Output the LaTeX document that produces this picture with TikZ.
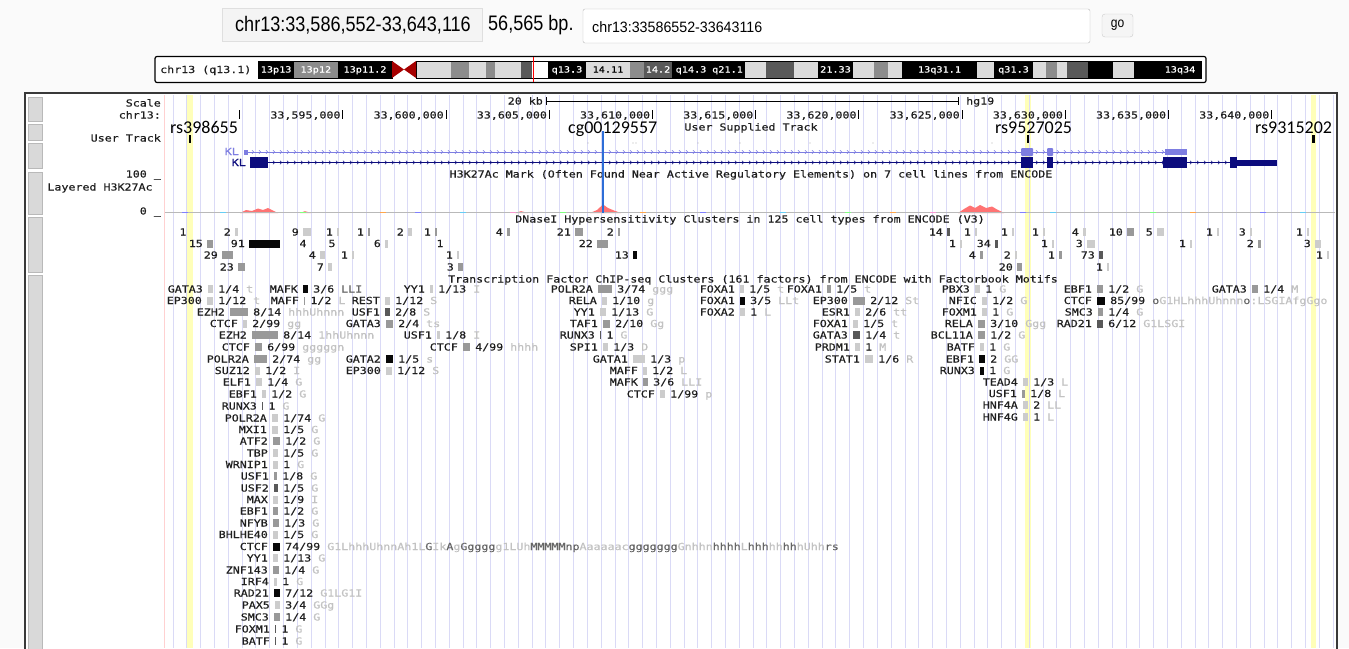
\documentclass[tikz,border=0pt]{standalone}
\usepackage{fontspec}
\newfontfamily\ucfam[FakeStretch=1.2,FakeBold=0.5]{DejaVu Sans Mono}
\newfontfamily\arnar[FakeStretch=0.86]{Liberation Sans}
\newfontfamily\arnarB[FakeStretch=0.95]{Liberation Sans}
\newfontfamily\calfam{Carlito}
\newcommand\ucf{\ucfam\fontsize{9.7}{10}\selectfont}
\newcommand\bandf{\ucfam\fontsize{8.5}{9}\selectfont}
\definecolor{gridc}{RGB}{218,218,246}
\definecolor{hlc}{RGB}{255,255,185}
\definecolor{klL}{RGB}{125,125,225}
\definecolor{klD}{RGB}{12,12,125}
\definecolor{cgblue}{RGB}{45,110,215}
\definecolor{sL}{gray}{0.80}
\definecolor{sM}{gray}{0.60}
\definecolor{sD}{gray}{0.35}
\definecolor{sK}{gray}{0.03}
\definecolor{mot}{gray}{0.76}
\definecolor{motd}{gray}{0.40}
\definecolor{bandL}{gray}{0.86}
\definecolor{bandM}{gray}{0.55}
\definecolor{bandD}{gray}{0.35}
\definecolor{txtc}{gray}{0.12}
\tikzset{
 lab/.style={anchor=east,font=\ucf,text=txtc,text height=7pt,text depth=0pt,inner sep=0pt},
 txt/.style={anchor=west,font=\ucf,text=txtc,text height=7pt,text depth=0pt,inner sep=0pt},
 ctr/.style={anchor=center,font=\ucf,text=txtc,text height=7pt,text depth=0pt,inner sep=0pt},
 bandlab/.style={anchor=center,font=\bandf,text height=6pt,text depth=0pt,inner sep=0pt},
 snp/.style={anchor=base west,font=\calfam\fontsize{18}{20}\selectfont,inner sep=0pt},
}
% TF cluster item: xbox, y, width, shade, label, score, motif
\newcommand\tfi[7]{%
  \node[lab] at ({#1-5},#2) {#5};
  \fill[#4] (#1,{#2-4}) rectangle ++(#3,8);
  \node[txt] at ({#1+#3+5},#2) {#6 \textcolor{mot}{#7}};
}
% DNase cluster item: xbox, y, width, shade, number
\newcommand\dn[5]{%
  \node[lab] at ({#1-4},#2) {#5};
  \fill[#4] (#1,{#2-4}) rectangle ++(#3,8);
}
\begin{document}
\begin{tikzpicture}[x=1pt,y=-1pt,font=\ucf]
\useasboundingbox (0,0) rectangle (1349,648);
\fill[gray!4] (0,0) rectangle (1349,648);
% ---------- top bar ----------
\filldraw[fill=gray!9,draw=gray!25] (222,8) rectangle (482,41);
\node[font=\arnar\fontsize{21}{24}\selectfont,inner sep=0pt] (pos) at (353,25) {chr13:33,586,552-33,643,116};
\node[font=\arnar\fontsize{21}{24}\selectfont,inner sep=0pt,anchor=west] (bp) at (488,25) {56,565 bp.};
\filldraw[fill=white,draw=gray!55,rounded corners=2pt] (583,9) rectangle (1090,43);
\node[font=\arnarB\fontsize{15}{17}\selectfont,inner sep=0pt,anchor=west] (inp) at (592,27) {chr13:33586552-33643116};
\filldraw[fill=gray!8,draw=gray!40,rounded corners=3pt] (1102,14) rectangle (1133,37);
\node[font=\arnar\fontsize{14}{16}\selectfont,inner sep=0pt] (go) at (1117.5,25) {go};
% ---------- ideogram ----------
\filldraw[fill=white,draw=black,line width=1.2pt,rounded corners=2pt] (155,56.5) rectangle (1206,82.5);
\node[txt] (chrlab) at (160,69.5) {chr13 (q13.1)};
\foreach \a/\b/\c in {258.6/293.6/black,293.6/338/bandM,338/392/black,416/451/bandL,451/469/bandM,469/486/bandL,486/495/bandM,495/521/bandL,521/532/bandD,532/548/white,548/586/black,586/630/bandL,630/644/bandM,644/672/bandD,672/710/black,710/745/black,745/766/bandL,766/794/bandD,794/818/bandL,818/853/black,853/874/bandL,874/888/bandM,888/902/bandL,902/977/black,977/994/bandL,994/1033/black,1033/1046/bandL,1046/1057/bandM,1057/1067/bandL,1067/1088/bandD,1088/1113/black,1113/1134/bandL,1134/1159/black,1159/1201/black}
  \fill[\c] (\a,61) rectangle (\b,78);
\draw[black,line width=0.5pt] (258.6,61) rectangle (392,78);
\draw[black,line width=0.5pt] (416,61) rectangle (1201,78);
\fill[red!65!black] (392,61) -- (404,69.5) -- (392,78) -- cycle;
\fill[red!65!black] (416,61) -- (404,69.5) -- (416,78) -- cycle;
\foreach \x/\t/\c in {276.1/13p13/white,315.8/13p12/white,365/13p11.2/white,567/q13.3/white,608/14.11/black,658/14.2/white,691/q14.3/white,727.5/q21.1/white,835.5/21.33/white,939.5/13q31.1/white,1013.5/q31.3/white,1180/13q34/white}
  \node[bandlab,text=\c] at (\x,69.5) {\t};
\draw[red,line width=1.5pt] (533.5,57) -- (533.5,82);
% ---------- main frame ----------
\fill[white] (25,93) rectangle (1337,648);
\foreach \a/\b in {97/121,124/140,143/168,172/214,217/272,275/652}
  \filldraw[fill=gray!30,draw=gray!55] (28.5,\a) rectangle (42,\b);
% highlights
\foreach \a/\b in {187/193,1025/1031,1311/1316}
  \fill[hlc] (\a,95) rectangle (\b,648);
% grid
\foreach \i in {0,...,84}
  \draw[gridc,line width=0.8pt] ({173+13.81*\i},95) -- ({173+13.81*\i},648);
\draw[red!18,line width=0.8pt] (164.5,95) -- (164.5,648);
\draw[gray!45!black,line width=2pt] (25,660) -- (25,93) -- (1337,93) -- (1337,660);
% ---------- left labels ----------
\node[lab] (lscale) at (161,103) {Scale};
\node[lab] (lchr) at (161,115) {chr13:};
\node[lab] (luser) at (161,138) {User Track};
\node[lab] (l100) at (161,174) {100 \_};
\node[ctr] (llay) at (100,187) {Layered H3K27Ac};
\node[lab] (l0) at (161,211) {0 \_};
% ---------- ruler ----------
\node[lab] (kb) at (543,101) {20 kb};
\draw[black,line width=0.8pt] (546,97) -- (546,105);
\draw[black,line width=0.8pt] (546,101) -- (958,101);
\draw[black,line width=0.8pt] (958,97) -- (958,105);
\node[txt] (hg) at (966,101) {hg19};
\draw[black,line width=0.8pt] (239.5,110) -- (239.5,119);
\foreach \i/\t in {1/{33,595,000},2/{33,600,000},3/{33,605,000},4/{33,610,000},5/{33,615,000},6/{33,620,000},7/{33,625,000},8/{33,630,000},9/{33,635,000},10/{33,640,000}}{
  \draw[black,line width=0.8pt] ({239.5+103.2*\i},110) -- ({239.5+103.2*\i},119);
  \node[lab] at ({237.5+103.2*\i},115) {\t};
}
% ---------- user track ----------
\node[ctr] (ust) at (751,127) {User Supplied Track};
\foreach \x in {188.5,1026.5,1312}
  \fill[black] (\x,135) rectangle ++(2.5,8);
\foreach \x in {588,633,636,698,740,810,873,992}
  \fill[gray!60] (\x,143) circle (0.6);
% ---------- KL genes ----------
\node[lab,text=klL] (kl1) at (239,151.5) {KL};
\draw[klL,line width=1pt] (245,152) -- (1187,152);
\foreach \x in {252,259,...,1180}
  \draw[klL,line width=0.5pt] (\x,150.2) -- (\x+1.7,152) -- (\x,153.8);
\fill[klL] (244,149.5) rectangle (248,154.5);
\fill[klL,rounded corners=1pt] (1021,148) rectangle (1033,156);
\fill[klL,rounded corners=1pt] (1047,148) rectangle (1053,156);
\fill[klL] (1165,149) rectangle (1187,155);
\node[lab,text=klD] (kl2) at (246,162.5) {KL};
\draw[klD,line width=1pt] (268,162.5) -- (1230,162.5);
\foreach \x in {273,280,...,1225}
  \draw[klD,line width=0.5pt] (\x,160.7) -- (\x+1.7,162.5) -- (\x,164.3);
\fill[klD] (250,157) rectangle (268,168);
\fill[klD] (1021,157) rectangle (1033,168);
\fill[klD] (1047,157) rectangle (1053,168);
\fill[klD] (1163,157) rectangle (1187,168);
\fill[klD] (1230,157) rectangle (1237,168);
\fill[klD] (1237,159.5) rectangle (1277,165.5);
% ---------- H3K27Ac ----------
\node[ctr] (h3t) at (751,174) {H3K27Ac Mark (Often Found Near Active Regulatory Elements) on 7 cell lines from ENCODE};
\fill[red!55!white] (240,213) -- (246,210) -- (252,211) -- (258,208.5) -- (263,210) -- (268,208) -- (273,210.5) -- (278,213) -- cycle;
\fill[red!45!white] (300,213) -- (305,211) -- (311,213) -- cycle;
\fill[red!45!white] (515,213) -- (521,211) -- (528,213) -- cycle;
\fill[red!55!white] (590,213) -- (597,210) -- (603,204.5) -- (608,208) -- (614,210.5) -- (621,213) -- cycle;
\fill[red!55!white] (958,213) -- (964,209) -- (970,205.5) -- (975,208) -- (980,205) -- (986,208) -- (992,206.5) -- (997,209.5) -- (1004,213) -- cycle;
\draw[gray!55,line width=1pt] (165,212.5) -- (1335,212.5);
\foreach \x/\c in {182/blue!50,220/cyan!60,300/green!50,380/orange!70,415/blue!50,460/cyan!60,510/magenta!40,560/green!50,640/orange!70,700/blue!50,780/cyan!60,845/green!50,890/orange!70,930/magenta!40,1020/blue!50,1050/cyan!60,1150/green!50,1190/orange!70,1260/blue!50,1300/cyan!60}
  \draw[\c,line width=1.5pt] (\x,212.5) -- ++(6,0);
% cg00129557 marker
\draw[cgblue,line width=2pt] (603,131) -- (603,213);
% SNP labels
\node[snp] (rs1) at (170,133) {rs398655};
\node[snp] (cg) at (568,133) {cg00129557};
\node[snp] (rs2) at (995,133) {rs9527025};
\node[snp] (rs3) at (1255,133) {rs9315202};
% ---------- DNase ----------
\node[ctr] (dnt) at (750,219) {DNaseI Hypersensitivity Clusters in 125 cell types from ENCODE (V3)};
\node[ctr] at (183,232) {1};
\dn{235}{232}{3}{sL}{2}
\dn{303}{232}{8}{sL}{9}
\dn{337}{232}{2}{sL}{1}
\dn{368}{232}{2}{sM}{1}
\dn{408}{232}{4}{sL}{2}
\dn{435}{232}{2}{sM}{1}
\dn{507}{232}{3}{sM}{4}
\dn{575}{232}{8}{sM}{21}
\dn{618}{232}{2}{sM}{2}
\dn{947}{232}{3}{sD}{14}
\dn{975}{232}{2}{sL}{1}
\dn{1012}{232}{2}{sL}{1}
\dn{1043}{232}{2}{sL}{1}
\dn{1083}{232}{3}{sL}{4}
\dn{1127}{232}{7}{sM}{10}
\dn{1157}{232}{7}{sL}{5}
\dn{1217}{232}{2}{sL}{1}
\dn{1250}{232}{2}{sL}{3}
\dn{1307}{232}{2}{sL}{1}
\dn{207}{243.5}{6}{sM}{15}
\dn{249}{243.5}{31}{sK}{91}
\node[ctr] at (303,243.5) {4};
\node[ctr] at (332,243.5) {5};
\dn{385}{243.5}{3}{sL}{6}
\node[ctr] at (440,243.5) {1};
\dn{597}{243.5}{11}{sM}{22}
\dn{960}{243.5}{1.5}{sL}{1}
\dn{995}{243.5}{3}{sD}{34}
\dn{1052}{243.5}{2}{sL}{1}
\dn{1087}{243.5}{8}{sL}{3}
\dn{1190}{243.5}{2}{sL}{1}
\dn{1258}{243.5}{3}{sM}{2}
\dn{1315}{243.5}{6}{sL}{3}
\dn{222}{255}{11}{sM}{29}
\dn{320}{255}{5}{sL}{4}
\dn{352}{255}{2}{sL}{1}
\dn{457}{255}{2}{sL}{1}
\dn{633}{255}{4}{sK}{13}
\dn{980}{255}{3}{sM}{4}
\dn{1015}{255}{2}{sL}{2}
\dn{1059}{255}{3}{sM}{1}
\dn{1099}{255}{4}{sD}{73}
\dn{1327}{255}{2}{sL}{1}
\dn{238}{267}{7}{sM}{23}
\dn{328}{267}{4}{sL}{7}
\dn{458}{267}{5}{sM}{3}
\dn{1017}{267}{5}{sM}{20}
\dn{1107}{267}{2}{sL}{1}
% ---------- TF clusters ----------
\node[ctr] (tft) at (753,279) {Transcription Factor ChIP-seq Clusters (161 factors) from ENCODE with Factorbook Motifs};
\tfi{208}{289}{5}{sL}{GATA3}{1/4}{t}
\tfi{207}{300.5}{6}{sL}{EP300}{1/12}{t}
\tfi{230}{312}{18}{sM}{EZH2}{8/14}{hhhUhnnn}
\tfi{243}{323.5}{4}{sL}{CTCF}{2/99}{gg}
\tfi{252}{335}{26}{sM}{EZH2}{8/14}{1hhUhnnn}
\tfi{255}{347}{7}{sM}{CTCF}{6/99}{gggggn}
\tfi{254}{359}{13}{sM}{POLR2A}{2/74}{gg}
\tfi{255}{370.5}{5}{sL}{SUZ12}{1/2}{I}
\tfi{256}{382}{6}{sL}{ELF1}{1/4}{G}
\tfi{262}{394}{4}{sL}{EBF1}{1/2}{G}
\tfi{262}{406}{1.2}{sD}{RUNX3}{1}{G}
\tfi{272}{418}{6}{sL}{POLR2A}{1/74}{G}
\tfi{272}{429.5}{6}{sL}{MXI1}{1/5}{G}
\tfi{273}{441}{7}{sM}{ATF2}{1/2}{G}
\tfi{273}{453}{5}{sL}{TBP}{1/5}{G}
\tfi{273}{464.5}{5}{sL}{WRNIP1}{1}{G}
\tfi{274}{476}{3}{sM}{USF1}{1/8}{G}
\tfi{274}{488}{4}{sD}{USF2}{1/5}{G}
\tfi{273}{499.5}{5}{sL}{MAX}{1/9}{I}
\tfi{273}{511}{5}{sM}{EBF1}{1/2}{G}
\tfi{273}{523}{6}{sM}{NFYB}{1/3}{G}
\tfi{273}{534.5}{5}{sL}{BHLHE40}{1/5}{G}
\tfi{273}{546.5}{7}{sK}{CTCF}{74/99}{G1LhhhUhnnAh1L\textcolor{motd}{G}Ik\textcolor{motd}{A}g\textcolor{motd}{Ggggg}g1LUh\textcolor{motd}{MMMMMnp}Aaaaaac\textcolor{motd}{ggggggg}Gnhhn\textcolor{motd}{hhhh}L\textcolor{motd}{hhh}hh\textcolor{motd}{hh}hUhh\textcolor{motd}{rs}}
\tfi{273}{558}{5}{sL}{YY1}{1/13}{G}
\tfi{273}{570}{6}{sM}{ZNF143}{1/4}{G}
\tfi{274}{581.5}{3}{sL}{IRF4}{1}{G}
\tfi{274}{593}{6}{sK}{RAD21}{7/12}{G1LG1I}
\tfi{275}{605}{5}{sL}{PAX5}{3/4}{GGg}
\tfi{274}{617}{6}{sM}{SMC3}{1/4}{G}
\tfi{275}{629}{1.2}{sD}{FOXM1}{1}{G}
\tfi{275}{641}{1.2}{sD}{BATF}{1}{G}
\tfi{303}{289}{5}{sK}{MAFK}{3/6}{\textcolor{motd}{LLI}}
\tfi{304}{300.5}{1.2}{sM}{MAFF}{1/2}{L}
\tfi{430}{289}{3}{sL}{YY1}{1/13}{I}
\tfi{385}{300.5}{5}{sL}{REST}{1/12}{S}
\tfi{385}{312}{5}{sD}{USF1}{2/8}{S}
\tfi{386}{323.5}{7}{sM}{GATA3}{2/4}{ts}
\tfi{437}{335}{3}{sL}{USF1}{1/8}{I}
\tfi{463}{347}{7}{sM}{CTCF}{4/99}{hhhh}
\tfi{386}{359}{7}{sK}{GATA2}{1/5}{s}
\tfi{386}{370.5}{6}{sL}{EP300}{1/12}{S}
\tfi{598}{289}{14}{sM}{POLR2A}{3/74}{ggg}
\tfi{602}{300.5}{5}{sL}{RELA}{1/10}{g}
\tfi{600}{312}{6}{sL}{YY1}{1/13}{G}
\tfi{603}{323.5}{7}{sM}{TAF1}{2/10}{Gg}
\tfi{600}{335}{1.2}{sD}{RUNX3}{1}{G}
\tfi{603}{347}{5}{sL}{SPI1}{1/3}{D}
\tfi{633}{359}{12}{sL}{GATA1}{1/3}{p}
\tfi{643}{370.5}{4}{sL}{MAFF}{1/2}{L}
\tfi{643}{382}{5}{sM}{MAFK}{3/6}{LLI}
\tfi{660}{394}{5}{sL}{CTCF}{1/99}{p}
\tfi{740}{289}{4}{sL}{FOXA1}{1/5}{t}
\tfi{740}{300.5}{5}{sK}{FOXA1}{3/5}{LLt}
\tfi{740}{312}{5}{sL}{FOXA2}{1}{L}
\tfi{827}{289}{4}{sM}{FOXA1}{1/5}{t}
\tfi{853}{300.5}{12}{sM}{EP300}{2/12}{St}
\tfi{855}{312}{5}{sL}{ESR1}{2/6}{tt}
\tfi{853}{323.5}{5}{sL}{FOXA1}{1/5}{t}
\tfi{853}{335}{7}{sD}{GATA3}{1/4}{t}
\tfi{855}{347}{5}{sL}{PRDM1}{1}{M}
\tfi{865}{359}{8}{sL}{STAT1}{1/6}{R}
\tfi{975}{289}{5}{sL}{PBX3}{1}{G}
\tfi{982}{300.5}{5}{sL}{NFIC}{1/2}{G}
\tfi{982}{312}{5}{sL}{FOXM1}{1}{G}
\tfi{978}{323.5}{7}{sM}{RELA}{3/10}{Ggg}
\tfi{978}{335}{7}{sM}{BCL11A}{1/2}{G}
\tfi{980}{347}{4}{sL}{BATF}{1}{G}
\tfi{979}{359}{6}{sK}{EBF1}{2}{GG}
\tfi{980}{370.5}{4}{sK}{RUNX3}{1}{G}
\tfi{1023}{382}{5}{sL}{TEAD4}{1/3}{L}
\tfi{1022}{393.5}{3}{sM}{USF1}{1/8}{L}
\tfi{1023}{405}{5}{sL}{HNF4A}{2}{LL}
\tfi{1023}{417}{5}{sL}{HNF4G}{1}{L}
\tfi{1097}{289}{6}{sM}{EBF1}{1/2}{G}
\tfi{1097}{300.5}{8}{sK}{CTCF}{85/99}{\textcolor{motd}{o}G1HLhhhUhnnn\textcolor{motd}{o}:LSGIAfgGgo}
\tfi{1098}{312}{5}{sM}{SMC3}{1/4}{G}
\tfi{1097}{323.5}{6}{sD}{RAD21}{6/12}{G1LSGI}
\tfi{1252}{289}{6}{sM}{GATA3}{1/4}{M}
\end{tikzpicture}
\end{document}
